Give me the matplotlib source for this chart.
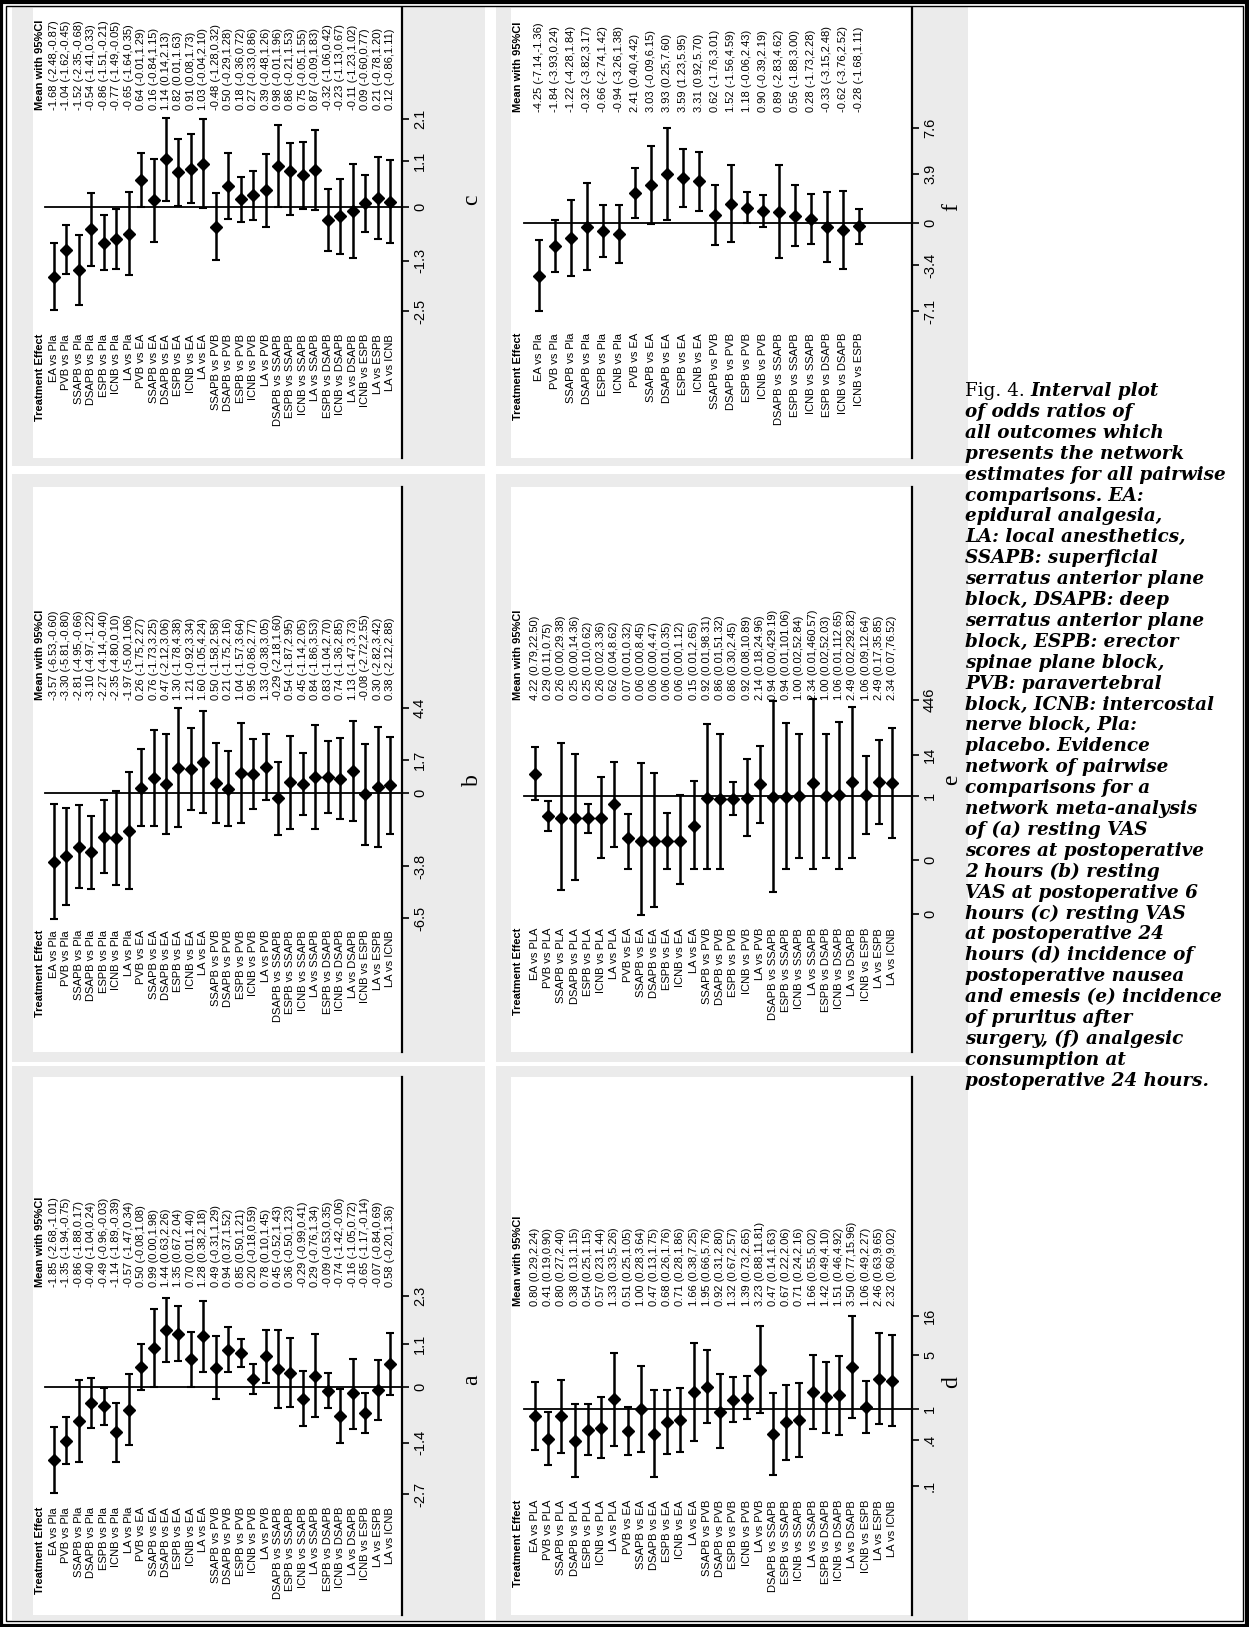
import matplotlib
matplotlib.use("Agg")
import matplotlib.pyplot as plt
from matplotlib.transforms import blended_transform_factory
from matplotlib.patches import Rectangle
from matplotlib.ticker import NullLocator, FixedLocator, FixedFormatter

W, H = 1249, 1627
DPI = 100

# ---------------- comparison labels ----------------
comparisons_pla = [
    "EA vs Pla", "PVB vs Pla", "SSAPB vs Pla", "DSAPB vs Pla", "ESPB vs Pla", "ICNB vs Pla", "LA vs Pla",
    "PVB vs EA", "SSAPB vs EA", "DSAPB vs EA", "ESPB vs EA", "ICNB vs EA", "LA vs EA",
    "SSAPB vs PVB", "DSAPB vs PVB", "ESPB vs PVB", "ICNB vs PVB", "LA vs PVB",
    "DSAPB vs SSAPB", "ESPB vs SSAPB", "ICNB vs SSAPB", "LA vs SSAPB",
    "ESPB vs DSAPB", "ICNB vs DSAPB", "LA vs DSAPB",
    "ICNB vs ESPB", "LA vs ESPB", "LA vs ICNB",
]
comparisons_PLA = [
    "EA vs PLA", "PVB vs PLA", "SSAPB vs PLA", "DSAPB vs PLA", "ESPB vs PLA", "ICNB vs PLA", "LA vs PLA",
    "PVB vs EA", "SSAPB vs EA", "DSAPB vs EA", "ESPB vs EA", "ICNB vs EA", "LA vs EA",
    "SSAPB vs PVB", "DSAPB vs PVB", "ESPB vs PVB", "ICNB vs PVB", "LA vs PVB",
    "DSAPB vs SSAPB", "ESPB vs SSAPB", "ICNB vs SSAPB", "LA vs SSAPB",
    "ESPB vs DSAPB", "ICNB vs DSAPB", "LA vs DSAPB",
    "ICNB vs ESPB", "LA vs ESPB", "LA vs ICNB",
]
comparisons_f = [
    "EA vs Pla", "PVB vs Pla", "SSAPB vs Pla", "DSAPB vs Pla", "ESPB vs Pla", "ICNB vs Pla",
    "PVB vs EA", "SSAPB vs EA", "DSAPB vs EA", "ESPB vs EA", "ICNB vs EA",
    "SSAPB vs PVB", "DSAPB vs PVB", "ESPB vs PVB", "ICNB vs PVB",
    "DSAPB vs SSAPB", "ESPB vs SSAPB", "ICNB vs SSAPB",
    "ESPB vs DSAPB", "ICNB vs DSAPB", "ICNB vs ESPB",
]

# ---------------- (a) resting VAS, 2 h ----------------
a_mean = [-1.85, -1.35, -0.86, -0.40, -0.49, -1.14, -0.57, 0.50, 0.99, 1.44, 1.35, 0.70, 1.28, 0.49,
          0.94, 0.85, 0.20, 0.78, 0.45, 0.36, -0.29, 0.29, -0.09, -0.74, -0.16, -0.65, -0.07, 0.58]
a_low = [-2.68, -1.94, -1.88, -1.04, -0.96, -1.89, -1.47, -0.08, 0.00, 0.63, 0.67, 0.01, 0.38, -0.31,
         0.37, 0.50, -0.18, 0.10, -0.52, -0.50, -0.99, -0.76, -0.53, -1.42, -1.05, -1.17, -0.84, -0.20]
a_high = [-1.01, -0.75, 0.17, 0.24, -0.03, -0.39, 0.34, 1.08, 1.98, 2.26, 2.04, 1.40, 2.18, 1.29,
          1.52, 1.21, 0.59, 1.45, 1.43, 1.23, 0.41, 1.34, 0.35, -0.06, 0.72, -0.14, 0.69, 1.36]
a_ticks = [-2.7, -1.4, 0, 1.1, 2.3]
a_ticklabels = ["-2.7", "-1.4", "0", "1.1", "2.3"]

# ---------------- (b) resting VAS, 6 h ----------------
b_mean = [-3.57, -3.30, -2.81, -3.10, -2.27, -2.35, -1.97, 0.26, 0.76, 0.47, 1.30, 1.21, 1.60, 0.50,
          0.21, 1.04, 0.95, 1.33, -0.29, 0.54, 0.45, 0.84, 0.83, 0.74, 1.13, -0.08, 0.30, 0.38]
b_low = [-6.53, -5.81, -4.95, -4.97, -4.14, -4.80, -5.00, -1.75, -1.73, -2.12, -1.78, -0.92, -1.05, -1.58,
         -1.75, -1.57, -0.86, -0.38, -2.18, -1.87, -1.14, -1.86, -1.04, -1.36, -1.47, -2.72, -2.82, -2.12]
b_high = [-0.60, -0.80, -0.66, -1.22, -0.40, 0.10, 1.06, 2.27, 3.25, 3.06, 4.38, 3.34, 4.24, 2.58,
          2.16, 3.64, 2.77, 3.05, 1.60, 2.95, 2.05, 3.53, 2.70, 2.85, 3.73, 2.55, 3.42, 2.88]
b_ticks = [-6.5, -3.8, 0, 1.7, 4.4]
b_ticklabels = ["-6.5", "-3.8", "0", "1.7", "4.4"]

# ---------------- (c) resting VAS, 24 h ----------------
c_mean = [-1.68, -1.04, -1.52, -0.54, -0.86, -0.77, -0.65, 0.64, 0.16, 1.14, 0.82, 0.91, 1.03, -0.48,
          0.50, 0.18, 0.27, 0.39, 0.98, 0.86, 0.75, 0.87, -0.32, -0.23, -0.11, 0.09, 0.21, 0.12]
c_low = [-2.48, -1.62, -2.35, -1.41, -1.51, -1.49, -1.64, -0.01, -0.84, 0.14, 0.01, 0.08, -0.04, -1.28,
         -0.29, -0.36, -0.33, -0.48, -0.01, -0.21, -0.05, -0.09, -1.06, -1.13, -1.23, -0.60, -0.78, -0.86]
c_high = [-0.87, -0.45, -0.68, 0.33, -0.21, -0.05, 0.35, 1.29, 1.15, 2.13, 1.63, 1.73, 2.10, 0.32,
          1.28, 0.72, 0.86, 1.26, 1.96, 1.53, 1.55, 1.83, 0.42, 0.67, 1.02, 0.77, 1.20, 1.11]
c_ticks = [-2.5, -1.3, 0, 1.1, 2.1]
c_ticklabels = ["-2.5", "-1.3", "0", "1.1", "2.1"]

# ---------------- (d) nausea and emesis (odds ratio) ----------------
d_mean = [0.80, 0.41, 0.80, 0.38, 0.54, 0.57, 1.33, 0.51, 1.00, 0.47, 0.68, 0.71, 1.66, 1.95,
          0.92, 1.32, 1.39, 3.23, 0.47, 0.67, 0.71, 1.66, 1.42, 1.51, 3.50, 1.06, 2.46, 2.32]
d_low = [0.29, 0.19, 0.27, 0.13, 0.25, 0.23, 0.33, 0.25, 0.28, 0.13, 0.26, 0.28, 0.38, 0.66,
         0.31, 0.67, 0.73, 0.88, 0.14, 0.22, 0.24, 0.55, 0.49, 0.46, 0.77, 0.49, 0.63, 0.60]
d_high = [2.24, 0.90, 2.40, 1.15, 1.15, 1.44, 5.26, 1.05, 3.64, 1.75, 1.76, 1.86, 7.25, 5.76,
          2.80, 2.57, 2.65, 11.81, 1.63, 2.06, 2.16, 5.02, 4.10, 4.92, 15.96, 2.27, 9.65, 9.02]
d_ticks = [0.1, 0.4, 1, 5, 16]
d_ticklabels = [".1", ".4", "1", "5", "16"]

# ---------------- (e) pruritus (odds ratio) ----------------
e_mean = [4.22, 0.29, 0.26, 0.25, 0.25, 0.26, 0.62, 0.07, 0.06, 0.06, 0.06, 0.06, 0.15, 0.92,
          0.86, 0.86, 0.92, 2.14, 0.94, 0.94, 1.00, 2.34, 1.00, 1.06, 2.49, 1.06, 2.49, 2.34]
e_low = [0.79, 0.11, 0.0027, 0.0049, 0.10, 0.02, 0.04, 0.01, 0.00053, 0.00088, 0.01, 0.0039, 0.01, 0.01,
         0.01, 0.30, 0.08, 0.18, 0.0023, 0.01, 0.02, 0.01, 0.02, 0.01, 0.02, 0.09, 0.17, 0.07]
e_high = [22.50, 0.75, 29.38, 14.36, 0.62, 3.36, 8.62, 0.32, 8.45, 4.47, 0.35, 1.12, 2.65, 98.31,
          51.32, 2.45, 10.89, 24.96, 429.19, 101.06, 52.84, 460.57, 52.03, 112.65, 292.82, 12.64, 35.85, 76.52]
e_ticks = [0.00058, 0.0177, 1, 14, 446]
e_ticklabels = ["0", "0", "1", "14", "446"]

# ---------------- (f) analgesic consumption, 24 h ----------------
f_mean = [-4.25, -1.84, -1.22, -0.32, -0.66, -0.94, 2.41, 3.03, 3.93, 3.59, 3.31, 0.62, 1.52, 1.18,
          0.90, 0.89, 0.56, 0.28, -0.33, -0.62, -0.28]
f_low = [-7.14, -3.93, -4.28, -3.82, -2.74, -3.26, 0.40, -0.09, 0.25, 1.23, 0.92, -1.76, -1.56, -0.06,
         -0.39, -2.83, -1.88, -1.73, -3.15, -3.76, -1.68]
f_high = [-1.36, 0.24, 1.84, 3.17, 1.42, 1.38, 4.42, 6.15, 7.60, 5.95, 5.70, 3.01, 4.59, 2.43,
          2.19, 4.62, 3.00, 2.28, 2.48, 2.52, 1.11]
f_ticks = [-7.1, -3.4, 0, 3.9, 7.6]
f_ticklabels = ["-7.1", "-3.4", "0", "3.9", "7.6"]

caption_lines = [
    "of odds ratios of", "all outcomes which", "presents the network",
    "estimates for all pairwise", "comparisons. EA:", "epidural analgesia,",
    "LA: local anesthetics,", "SSAPB: superficial", "serratus anterior plane",
    "block, DSAPB: deep", "serratus anterior plane", "block, ESPB: erector",
    "spinae plane block,", "PVB: paravertebral", "block, ICNB: intercostal",
    "nerve block, Pla:", "placebo. Evidence", "network of pairwise",
    "comparisons for a", "network meta-analysis", "of (a) resting VAS",
    "scores at postoperative", "2 hours (b) resting", "VAS at postoperative 6",
    "hours (c) resting VAS", "at postoperative 24", "hours (d) incidence of",
    "postoperative nausea", "and emesis (e) incidence", "of pruritus after",
    "surgery, (f) analgesic", "consumption at", "postoperative 24 hours.",
]

GRAY = "#ebebeb"
SANS = ["Liberation Sans", "DejaVu Sans"]
SERIF = ["DejaVu Serif"]

fig = plt.figure(figsize=(W / DPI, H / DPI), dpi=DPI, facecolor="white")
bg = fig.add_axes([0, 0, 1, 1])
bg.set_xlim(0, W)
bg.set_ylim(H, 0)
bg.axis("off")

# page frame (double rule)
bg.add_patch(Rectangle((1.5, 1.5), W - 3, H - 3, fill=False, lw=3, ec="black"))
bg.add_patch(Rectangle((6, 6), W - 12, H - 12, fill=False, lw=1, ec="black"))


def pos(x0, y0, x1, y1):
    return [x0 / W, 1 - y1 / H, (x1 - x0) / W, (y1 - y0) / H]


def draw_panel(letter, labels, mean, low, high, ticks, ticklabels, log, g):
    n = len(labels)
    gx0, gy0, gx1, gy1 = g["gray"]
    bg.add_patch(Rectangle((gx0, gy0), gx1 - gx0, gy1 - gy0, color=GRAY, lw=0, zorder=0))
    wx0, wy0, wx1, wy1 = g["white"]
    bg.add_patch(Rectangle((wx0, wy0), wx1 - wx0, wy1 - wy0, color="white", lw=0, zorder=0.5))
    # axis rule
    bg.plot([g["axis_x"], g["axis_x"]], [wy0, wy1], color="black", lw=1.6, zorder=3)

    xl, xr = g["xspan"]
    ytop, ybot = g["yspan"]
    ax = fig.add_axes(pos(xl, ytop, xr, ybot))
    ax.patch.set_alpha(0)
    r1, rn = g["rows"]
    k = (n - 1) / (rn - r1)
    ax.set_xlim(1 + (xl - r1) * k, 1 + (xr - r1) * k)
    if log:
        ax.set_yscale("log")
    ax.set_ylim(ticks[0], ticks[-1])
    for s in ax.spines.values():
        s.set_visible(False)
    ax.set_xticks([])
    ax.yaxis.tick_right()
    ax.yaxis.set_major_locator(FixedLocator(ticks))
    ax.yaxis.set_major_formatter(FixedFormatter(ticklabels))
    ax.yaxis.set_minor_locator(NullLocator())
    ax.tick_params(axis="y", direction="out", length=5, width=1.2, pad=3,
                   labelsize=10.5, right=True, left=False)
    for t in ax.get_yticklabels():
        t.set_rotation(90)
        t.set_va("center")
        t.set_fontfamily(SANS)

    xs = list(range(1, n + 1))
    ax.axhline(1 if log else 0, color="black", lw=1.3, zorder=1, clip_on=False)
    yerr = [[m - lo for m, lo in zip(mean, low)], [hi - m for m, hi in zip(mean, high)]]
    ax.errorbar(xs, mean, yerr=yerr, fmt="D", color="black", ms=6.5, elinewidth=1.8,
                capsize=3, capthick=1.5, clip_on=False, zorder=3)

    tr = blended_transform_factory(ax.transData, bg.transData)
    for i, lab in enumerate(labels):
        ax.text(i + 1, g["labels_top"], lab, rotation=90, ha="center", va="top",
                fontsize=8, fontfamily=SANS, transform=tr)
        txt = f"{mean[i]:.2f} ({low[i]:.2f},{high[i]:.2f})"
        ax.text(i + 1, g["mean_bottom"], txt, rotation=90, ha="center", va="bottom",
                fontsize=8, fontfamily=SANS, transform=tr)
    hx = g["header_x"]
    bg.text(hx, g["labels_top"], "Treatment Effect", rotation=90, ha="center", va="top",
            fontsize=8, fontweight="bold", fontfamily=SANS)
    bg.text(hx, g["mean_bottom"], "Mean with 95%CI", rotation=90, ha="center", va="bottom",
            fontsize=8, fontweight="bold", fontfamily=SANS)
    lx, ly = g["letter"]
    bg.text(lx, ly, letter, rotation=90, ha="center", va="center", fontsize=17,
            fontfamily=["Liberation Serif"])


LEFT = dict(xspan=(45, 402), rows=(54, 390), header_x=40, axis_x=402)
RIGHT = dict(xspan=(524, 912), rows=(535, 892), header_x=518, axis_x=912)

geom = {
    "c": dict(LEFT, gray=(12, 7, 485, 466), white=(33, 8, 402, 458), yspan=(119, 311),
              mean_bottom=110, labels_top=334, letter=(472, 200)),
    "b": dict(LEFT, gray=(12, 474, 485, 1062), white=(33, 487, 402, 1052), yspan=(708, 918),
              mean_bottom=700, labels_top=930, letter=(472, 780)),
    "a": dict(LEFT, gray=(12, 1066, 485, 1620), white=(33, 1077, 402, 1615), yspan=(1296, 1494),
              mean_bottom=1287, labels_top=1507, letter=(472, 1380)),
    "f": dict(RIGHT, rows=(539, 859), gray=(496, 7, 968, 466), white=(511, 8, 912, 458),
              yspan=(128, 311), mean_bottom=112, labels_top=333, letter=(952, 207)),
    "e": dict(RIGHT, gray=(496, 474, 968, 1062), white=(511, 487, 912, 1052), yspan=(700, 914),
              mean_bottom=700, labels_top=928, letter=(952, 780)),
    "d": dict(RIGHT, gray=(496, 1066, 968, 1620), white=(511, 1077, 912, 1615), yspan=(1316, 1486),
              mean_bottom=1306, labels_top=1500, letter=(952, 1382)),
}

draw_panel("a", comparisons_pla, a_mean, a_low, a_high, a_ticks, a_ticklabels, False, geom["a"])
draw_panel("b", comparisons_pla, b_mean, b_low, b_high, b_ticks, b_ticklabels, False, geom["b"])
draw_panel("c", comparisons_pla, c_mean, c_low, c_high, c_ticks, c_ticklabels, False, geom["c"])
draw_panel("d", comparisons_PLA, d_mean, d_low, d_high, d_ticks, d_ticklabels, True, geom["d"])
draw_panel("e", comparisons_PLA, e_mean, e_low, e_high, e_ticks, e_ticklabels, True, geom["e"])
draw_panel("f", comparisons_f, f_mean, f_low, f_high, f_ticks, f_ticklabels, False, geom["f"])

# caption
cap_x, cap_y, cap_dy, cap_fs = 965, 391, 20.9, 13.2
renderer = fig.canvas.get_renderer()
t0 = bg.text(cap_x, cap_y, "Fig. 4. ", ha="left", va="center", fontsize=cap_fs,
             fontfamily=SERIF)
bb = t0.get_window_extent(renderer=renderer)
bg.text(cap_x + bb.width, cap_y, "Interval plot", ha="left", va="center", fontsize=cap_fs,
        fontfamily=SERIF, fontstyle="italic", fontweight="bold")
for i, line in enumerate(caption_lines):
    bg.text(cap_x, cap_y + (i + 1) * cap_dy, line, ha="left", va="center", fontsize=cap_fs,
            fontfamily=SERIF, fontstyle="italic", fontweight="bold")

fig.savefig("out.png", dpi=DPI, facecolor="white")
